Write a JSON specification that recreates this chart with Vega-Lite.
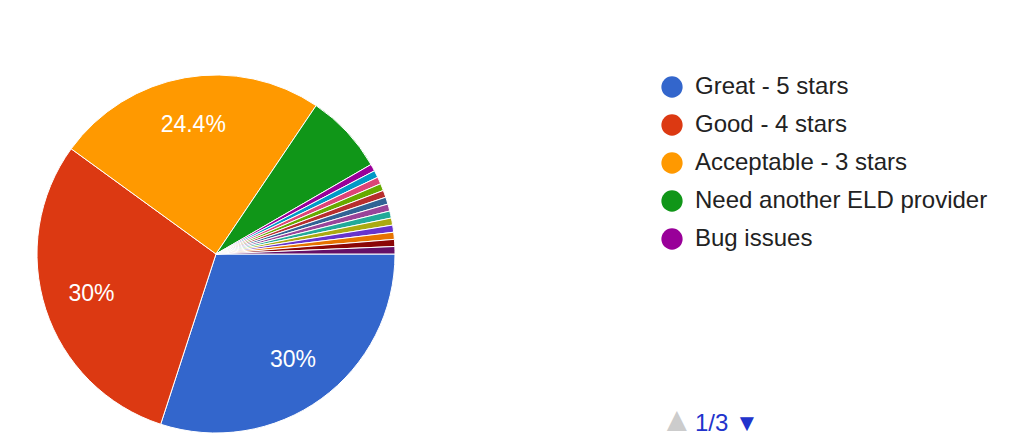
{
  "$schema": "https://vega.github.io/schema/vega-lite/v6.json",
  "width": 358,
  "height": 358,
  "padding": {"left": 35, "top": 73, "right": 0, "bottom": 0},
  "background": "white",
  "title": {
    "text": "1/3  ▼",
    "orient": "bottom",
    "anchor": "start",
    "frame": "group",
    "dx": 658,
    "offset": -26,
    "font": "Liberation Sans",
    "fontSize": 24,
    "fontWeight": "normal",
    "color": "#2233cc"
  },
  "data": {
    "values": [
      {"idx": 1, "name": "Great - 5 stars", "count": 54, "label": "30%"},
      {"idx": 2, "name": "Good - 4 stars", "count": 54, "label": "30%"},
      {"idx": 3, "name": "Acceptable - 3 stars", "count": 44, "label": "24.4%"},
      {"idx": 4, "name": "Need another ELD provider", "count": 13, "label": ""},
      {"idx": 5, "name": "Bug issues", "count": 1.15, "label": ""},
      {"idx": 6, "name": "Option 6", "count": 1.15, "label": ""},
      {"idx": 7, "name": "Option 7", "count": 1.15, "label": ""},
      {"idx": 8, "name": "Option 8", "count": 1.15, "label": ""},
      {"idx": 9, "name": "Option 9", "count": 1.15, "label": ""},
      {"idx": 10, "name": "Option 10", "count": 1.15, "label": ""},
      {"idx": 11, "name": "Option 11", "count": 1.15, "label": ""},
      {"idx": 12, "name": "Option 12", "count": 1.15, "label": ""},
      {"idx": 13, "name": "Option 13", "count": 1.15, "label": ""},
      {"idx": 14, "name": "Option 14", "count": 1.15, "label": ""},
      {"idx": 15, "name": "Option 15", "count": 1.15, "label": ""},
      {"idx": 16, "name": "Option 16", "count": 1.15, "label": ""},
      {"idx": 17, "name": "Option 17", "count": 1.2, "label": ""}
    ]
  },
  "encoding": {
    "theta": {
      "field": "count",
      "type": "quantitative",
      "stack": true,
      "scale": {"range": [1.5708, 7.854]}
    },
    "order": {"field": "idx", "type": "quantitative"},
    "detail": {"field": "name"}
  },
  "layer": [
    {
      "mark": {"type": "arc", "outerRadius": 179, "stroke": "white", "strokeWidth": 1},
      "encoding": {
        "color": {
          "field": "name",
          "type": "nominal",
          "scale": {
            "domain": ["Great - 5 stars", "Good - 4 stars", "Acceptable - 3 stars", "Need another ELD provider", "Bug issues", "Option 6", "Option 7", "Option 8", "Option 9", "Option 10", "Option 11", "Option 12", "Option 13", "Option 14", "Option 15", "Option 16", "Option 17"],
            "range": ["#3366cc", "#dc3912", "#ff9900", "#109618", "#990099", "#0099c6", "#dd4477", "#66aa00", "#b82e2e", "#316395", "#994499", "#22aa99", "#aaaa11", "#6633cc", "#e67300", "#8b0707", "#651067"]
          },
          "legend": {
            "values": ["Great - 5 stars", "Good - 4 stars", "Acceptable - 3 stars", "Need another ELD provider", "Bug issues"],
            "orient": "right",
            "offset": 265,
            "title": "▲",
            "titleOrient": "bottom",
            "titleAnchor": "start",
            "titlePadding": 153,
            "titleFontSize": 34,
            "titleFontWeight": "normal",
            "titleColor": "#cccccc",
            "symbolType": "circle",
            "symbolSize": 452,
            "symbolStrokeWidth": 0,
            "labelFont": "Liberation Sans",
            "labelFontSize": 24,
            "labelColor": "#222222",
            "labelOffset": 11,
            "labelLimit": 400,
            "rowPadding": 14,
            "padding": 0
          }
        }
      }
    },
    {
      "mark": {"type": "text", "radius": 131, "fill": "white", "font": "Liberation Sans", "fontSize": 23},
      "encoding": {
        "text": {"field": "label"}
      }
    }
  ]
}
